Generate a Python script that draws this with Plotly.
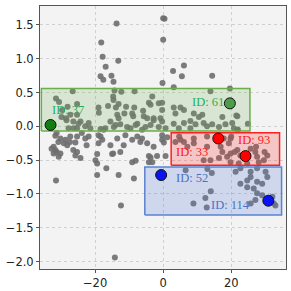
import plotly.graph_objects as go

# ---- background point cloud (x, y) ----
pts_x = [
    -13.7, -18.2, -17.8, -13.2, -16.9, -15.2, -18.4, -17.6, -14.6, 0.0, 0.4, 0.0, 6.1, 2.9, 5.5, 14.4,
    -0.2, 3.1, 19.6, 13.9, -14.3, -26.6, -8.4, -12.3,
    -31.5, -30.6, -25.3, -28.1, -29.7, -29.9, -28.6, -27.3, -25.3, -24.3, -22.9, -21.9, -28.4, -26.4,
    -24.9, -27.8, -26.3, -25.3, -21.4, -19.0, -18.9, -16.2, -13.9, -10.9, -8.5, -5.9, -14.7, -14.6,
    -13.5, -13.1, -11.4, -9.1, -8.8, -15.5, -14.0, -12.6, -10.6, -9.6, -7.6, -6.2, -4.7, -18.4, -17.0,
    -14.5, -13.1, -5.7, -4.2, -3.7, -0.3, -2.8, -0.8, -0.3, -5.2, -8.1, -17.5,
    -3.2, -1.3, -0.3, 3.1, 5.1, 6.1, 3.6, 9.0, 10.5, 11.5, 17.4, 21.8, -2.8, 3.1, 6.1, 8.0, 9.5, 11.9,
    12.9, 14.4, 16.4, 18.3, 20.3, 20.8, -3.7, -1.3, 0.7, 4.6, 8.0, 24.9, 21.5, 21.9,
    -31.7, -30.2, -28.7, -29.2, -27.3, -25.3, -22.9, -21.9, -25.8, -32.2, -18.4, -17.9, -13.5, -11.1,
    -11.6, -9.1, -7.6, -6.2, -4.7, -15.5, -31.3, -30.8, -32.8, -31.3, -27.4, -26.4, -23.9, -22.5,
    -19.0, -19.0, -31.7, -30.2, -32.2, -30.7, -28.2, -25.3, -25.8, -24.3, -19.4, -19.9, -19.4, -19.4,
    -16.7, -14.7, -13.1, -12.6, -9.1, -8.1, -8.6, -6.7, -4.2, -4.2, -31.5, -12.4, -14.2, -3.7, -15.0,
    -0.3, 1.2, -0.3, 5.1, 9.0, 12.9, 17.8, 19.8, 19.3, 12.9, 16.9, 7.1, -2.8, 0.2, -1.8, 0.7, -3.2,
    3.6, 6.1, 9.0, 17.4, 18.8, 19.8, 21.8, 22.7, 25.7, 27.1, 27.6, 29.6, 30.6, 24.7, 22.2, 19.8, 28.1,
    13.9, 11.9, 16.4, 4.7, 20.0, 21.9, 27.3, 29.8, 21.0,
    6.6, 13.0, 14.3, 14.0, 12.4, 8.9, 12.8,
    21.3, 22.7, 25.7, 27.6, 30.1, 30.6, 25.7, 24.7, 27.6, 22.7, 29.1, 24.7, 26.6, 27.6, 29.1, 32.1,
    32.5, 33.0, 27.1, 25.7,
]
pts_y = [
    1.52, 1.24, 1.03, 0.97, 0.88, 0.75, 0.74, 0.69, 0.66, 1.60, 1.59, 1.28, 0.90, 0.82, 0.74, 0.75,
    0.64, 0.58, 0.56, 0.52, 0.53, 0.52, 0.52, 0.51,
    0.41, 0.36, 0.33, 0.29, 0.24, 0.14, 0.12, 0.17, 0.17, 0.07, 0.00, 0.05, 0.09, 0.07,
    0.04, -0.03, -0.03, -0.03, -0.03, 0.28, 0.20, 0.30, 0.28, 0.29, 0.28, 0.23, 0.44, 0.39,
    0.17, 0.12, 0.19, 0.19, 0.15, 0.07, 0.02, 0.03, -0.01, -0.03, 0.04, -0.05, 0.12, -0.04, -0.03,
    -0.01, 0.33, 0.15, 0.35, 0.32, 0.35, 0.09, 0.12, 0.07, -0.01, 0.02, -0.05,
    0.44, 0.34, 0.24, 0.28, 0.28, 0.24, 0.19, 0.19, 0.14, 0.17, 0.14, 0.15, 0.12, 0.04, 0.05, 0.08, 0.03, 0.05,
    0.00, 0.03, -0.01, 0.03, 0.05, -0.03, 0.02, -0.01, -0.03, -0.03, -0.03, 0.04, 0.16, -0.05,
    -0.14, -0.18, -0.20, -0.25, -0.15, -0.15, -0.18, -0.15, -0.24, -0.30, -0.15, -0.20, -0.18, -0.13,
    -0.28, -0.20, -0.15, -0.18, -0.25, -0.28, -0.10, -0.23, -0.33, -0.38, -0.23, -0.35, -0.10, -0.28,
    -0.13, -0.25, -0.35, -0.40, -0.40, -0.45, -0.28, -0.38, -0.43, -0.47, -0.41, -0.50, -0.55, -0.72,
    -0.62, -0.40, -0.72, -0.38, -0.53, -0.51, -0.77, -0.23, -0.44, -0.53, -0.80, -1.17, -1.94, -0.46, -0.41,
    -0.13, -0.16, -0.20, -0.20, -0.18, -0.15, -0.18, -0.18, -0.25, -0.30, -0.30, -0.30, -0.30, -0.24, -0.44, -0.44, -0.53,
    -0.23, -0.23, -0.25, -0.38, -0.45, -0.40, -0.35, -0.43, -0.33, -0.38, -0.45, -0.50, -0.43, -0.55, -0.55, -0.53, -0.53,
    -0.50, -0.50, -0.47, -0.15, -0.15, -0.05, -0.30, -0.38, -0.38,
    -0.65, -0.63, -0.69, -0.96, -1.06, -1.14, -1.20,
    -0.67, -0.62, -0.67, -0.62, -0.67, -0.75, -0.75, -0.80, -0.82, -0.85, -0.85, -0.90, -0.92, -0.99, -1.02, -1.04,
    -1.14, -1.17, -1.09, -1.14,
]

# ---- highlight boxes (x0, x1, y0, y1) ----
box_names = ["green", "red", "blue"]
box_x0 = [-35.8, 2.35, -5.4]
box_x1 = [25.5, 34.2, 34.8]
box_y0 = [-0.07, -0.574, -1.31]
box_y1 = [0.56, -0.095, -0.60]
box_line = ["#6aaf4a", "#ff2020", "#5a82d2"]
box_fill = ["rgba(110,175,80,0.20)", "rgba(255,40,40,0.22)", "rgba(80,120,220,0.22)"]

# ---- highlighted IDs ----
id_labels = ["ID: 37", "ID: 61", "ID: 33", "ID: 93", "ID: 52", "ID: 114"]
id_x = [-33.1, 19.6, 16.2, 24.2, -0.6, 30.9]
id_y = [0.02, 0.34, -0.18, -0.44, -0.72, -1.10]
id_color = ["#127d12", "#4a9e4a", "#ff0000", "#ff0000", "#0a14f0", "#0a14f0"]
lab_x = [-28.1, 13.3, 8.6, 26.7, 8.6, 19.8]
lab_y = [0.24, 0.36, -0.38, -0.20, -0.77, -1.16]
lab_color = ["#22b05a", "#22b05a", "#ff1a1a", "#ff1a1a", "#4a72c4", "#4a72c4"]

fig = go.Figure()

fig.add_trace(go.Scatter(
    x=pts_x, y=pts_y, mode="markers",
    marker=dict(size=6, color="#6e6e6e", opacity=0.9, line=dict(width=0)),
    hoverinfo="skip", showlegend=False))

for i in range(len(box_names)):
    fig.add_trace(go.Scatter(
        x=[box_x0[i], box_x1[i], box_x1[i], box_x0[i], box_x0[i]],
        y=[box_y0[i], box_y0[i], box_y1[i], box_y1[i], box_y0[i]],
        mode="lines", fill="toself", fillcolor=box_fill[i],
        line=dict(color=box_line[i], width=1.5),
        hoverinfo="skip", showlegend=False))

fig.add_trace(go.Scatter(
    x=id_x, y=id_y, mode="markers",
    marker=dict(size=11, color=id_color, line=dict(color="#111111", width=1)),
    hoverinfo="skip", showlegend=False))

for i in range(len(id_labels)):
    fig.add_annotation(x=lab_x[i], y=lab_y[i], text=id_labels[i], showarrow=False,
                       xanchor="center", yanchor="middle",
                       font=dict(family="Liberation Serif", size=12.5, color=lab_color[i]))

axis_common = dict(
    showline=True, linecolor="#555555", linewidth=1, mirror=True,
    showgrid=True, gridcolor="#d0d0d0", griddash="dot", gridwidth=0.8,
    zeroline=False, ticks="outside", ticklen=3, tickcolor="#555555",
    tickfont=dict(family="DejaVu Sans", size=11.5, color="#222222"),
    automargin=False,
)

fig.update_layout(
    width=291, height=291,
    margin=dict(l=40, r=5, t=6, b=22),
    paper_bgcolor="white", plot_bgcolor="#f3f3f3",
    xaxis=dict(range=[-36.2, 36.1], tickvals=[-20, 0, 20], **axis_common),
    yaxis=dict(range=[-2.11, 1.78], tickvals=[-2.0, -1.5, -1.0, -0.5, 0.0, 0.5, 1.0, 1.5],
               tickformat=".1f", **axis_common),
)

fig.write_html("out.html", config={"displayModeBar": False},
               post_script="document.body.style.margin='0px';document.body.style.overflow='hidden';")
